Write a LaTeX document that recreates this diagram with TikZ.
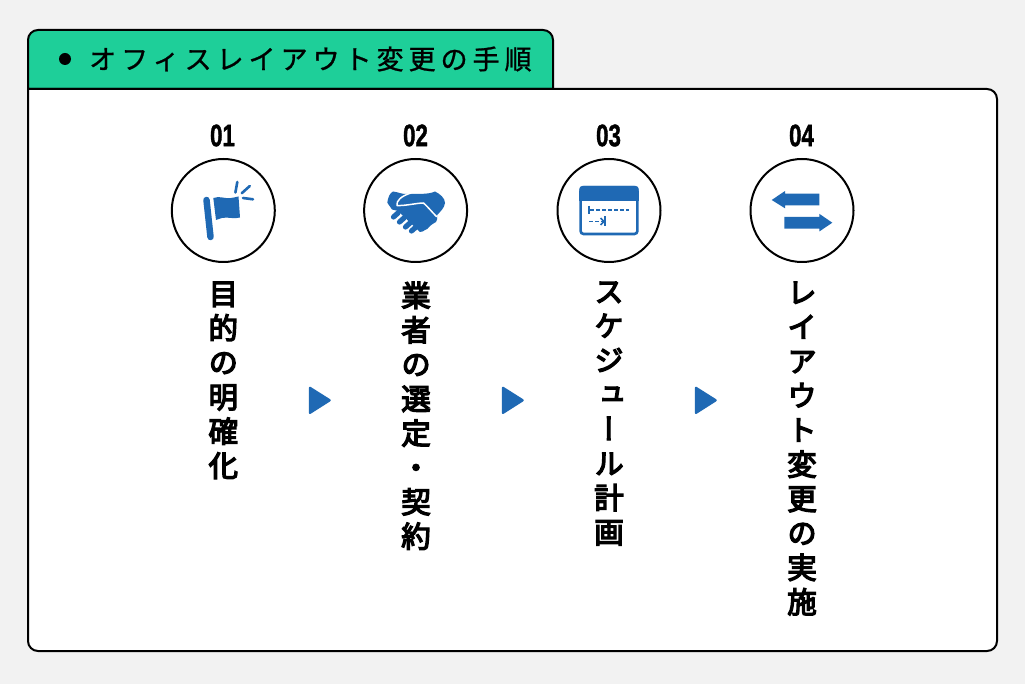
\documentclass[tikz,border=0pt]{standalone}
\usepackage{fontspec}
\usepackage{graphicx}
\setmainfont{Liberation Sans}
\newfontfamily\numf[BoldFeatures={FakeBold=1.5}]{Liberation Sans}
\newfontfamily\jpv[RawFeature={+vert},FakeBold=4.5]{Noto Sans CJK JP}
\newfontfamily\jptitle[LetterSpace=18.5,FakeBold=1]{Noto Sans CJK JP}
\definecolor{bgc}{HTML}{F2F2F2}
\definecolor{greenc}{HTML}{1ECF99}
\definecolor{bluec}{HTML}{1F69B4}
\tikzset{
  circ/.style={circle,draw=black,line width=2pt,fill=white,minimum size=103pt,inner sep=0pt},
  numlabel/.style={inner sep=0pt,font=\numf\fontsize{31}{31}\selectfont\bfseries},
  coltext/.style={anchor=north,inner sep=0pt,align=center,font=\jpv\fontsize{29.5}{34.4}\selectfont},
  tri/.style={fill=bluec,draw=bluec,line width=2.5pt,line join=round},
  ic/.style={fill=bluec,draw=none},
  icl/.style={draw=bluec,line cap=round},
  box/.style={draw=black,line width=2pt}
}
\newcommand{\numtxt}[1]{\scalebox{0.72}[1]{#1}}
\begin{document}
\begin{tikzpicture}[x=1pt,y=-1pt]
\useasboundingbox (0,0) rectangle (1025,684);
\fill[bgc] (0,0) rectangle (1025,684);
% title tab
\draw[box,fill=greenc] (28,89) [rounded corners=10pt] -- (28,30) -- (553,30) [sharp corners] -- (553,89) -- cycle;
% main panel
\draw[box,fill=white] (28,89) [rounded corners=10pt] -- (997,89) -- (997,651) -- (28,651) [sharp corners] -- cycle;
\fill[black] (65,59) circle[radius=6];
\node[anchor=west,inner sep=0pt,font=\jptitle\fontsize{27}{27}\selectfont] (title) at (89,59) {オフィスレイアウト変更の手順};
% numbers
\node[numlabel] (n1) at (222.5,135.5) {\numtxt{01}};
\node[numlabel] (n2) at (415.5,135.5) {\numtxt{02}};
\node[numlabel] (n3) at (608.5,135.5) {\numtxt{03}};
\node[numlabel] (n4) at (801.5,135.5) {\numtxt{04}};
% circles
\node[circ] (c1) at (223.3,210.5) {};
\node[circ] (c2) at (415.6,210.5) {};
\node[circ] (c3) at (609,210.5) {};
\node[circ] (c4) at (802,210.5) {};
% flag
\draw[icl,line width=6.5pt] (206.5,200) -- (210.5,237);
\fill[ic] (213.3,198) .. controls (220,195.5) and (224,199) .. (231,198) .. controls (234,197.6) and (236,197) .. (238.5,196.5) -- (240,217.5) .. controls (233,219.5) and (228,216.5) .. (222,218) .. controls (220,218.5) and (218,219.3) .. (216,220) -- cycle;
\draw[icl,line width=2.6pt] (237.3,182) -- (235.4,192.5);
\draw[icl,line width=2.6pt] (249.8,186) -- (241.8,193.2);
\draw[icl,line width=2.6pt] (253,199.3) -- (243,198);
% handshake
\fill[ic] (387.3,202.7) .. controls (388,197) and (390,193) .. (393,191.5) .. controls (398,192) and (402,194.5) .. (408,194) .. controls (414,193.5) and (428,195) .. (435,191.5) .. controls (440,194) and (445,198) .. (445,203) .. controls (444.5,208) and (440,212) .. (437,215) .. controls (437.5,218) and (437.5,220) .. (436,222) .. controls (433,223) and (432,225) .. (430,226) .. controls (428,228) and (427,230) .. (425,230) .. controls (424,231) and (422,232) .. (420,232) -- (398,211) -- (392,209.5) -- cycle;
\draw[white,line width=1.5pt,line cap=round,line join=round] (436.5,216.5) .. controls (431,211) and (428,207) .. (423.5,203) .. controls (417,203) and (405,206) .. (397,205.5) .. controls (396,201) and (401,196) .. (411,193);
\draw[icl,line width=5.2pt] (393.5,217) -- (398,213);
\draw[icl,line width=5.2pt] (399.5,222) -- (404,218);
\draw[icl,line width=5.2pt] (405.5,227) -- (410,223);
\draw[icl,line width=5.2pt] (411.5,231) -- (415.5,227.5);
% window icon
\draw[draw=bluec,fill=white,line width=2.6pt,rounded corners=3pt] (580.6,187.3) rectangle (637.4,234);
\fill[ic,rounded corners=3pt] (579.3,186) rectangle (638.7,195);
\fill[ic] (579.3,191) rectangle (638.7,201);
\draw[draw=bluec,line width=1.8pt,dash pattern=on 3.6pt off 2.4pt] (590,210) -- (628.5,210);
\draw[draw=bluec,line width=2pt] (589,206) -- (589,214);
\draw[draw=bluec,line width=1.8pt,dash pattern=on 3.6pt off 2.4pt] (589,221.5) -- (603,221.5);
\draw[draw=bluec,line width=1.6pt] (600.5,218) -- (604,221.5) -- (600.5,225);
\draw[draw=bluec,line width=2pt] (604.8,216.5) -- (604.8,226);
% swap arrows
\fill[ic] (771.7,200) -- (785,191) -- (785,193.7) -- (819.3,193.7) -- (819.3,205.3) -- (785,205.3) -- (785,208.3) -- cycle;
\fill[ic] (832.3,222.7) -- (819.3,213.8) -- (819.3,217) -- (784.3,217) -- (784.3,228.7) -- (819.3,228.7) -- (819.3,231.5) -- cycle;
% vertical labels
\node[coltext] (t1) at (223.3,281.6) {目\\的\\の\\明\\確\\化};
\node[coltext] (t2) at (416,281.6) {業\\者\\の\\選\\定\\・\\契\\約};
\node[coltext] (t3) at (609,281.6) {ス\\ケ\\ジ\\ュ\\ー\\ル\\計\\画};
\node[coltext] (t4) at (802,281.6) {レ\\イ\\ア\\ウ\\ト\\変\\更\\の\\実\\施};
% triangles
\draw[tri] (310,388) -- (329.5,400.3) -- (310,412.7) -- cycle;
\draw[tri] (503,388) -- (522.5,400.3) -- (503,412.7) -- cycle;
\draw[tri] (696,388) -- (715.5,400.3) -- (696,412.7) -- cycle;
\end{tikzpicture}
\end{document}
